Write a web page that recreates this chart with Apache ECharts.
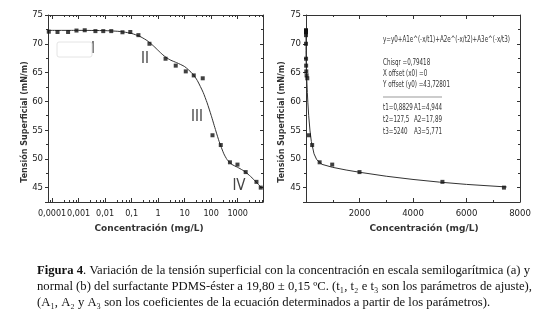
<!DOCTYPE html>
<html>
<head>
<meta charset="utf-8">
<script src="https://cdn.jsdelivr.net/npm/echarts@6/dist/echarts.min.js"></script>
<style>
  html, body { margin: 0; padding: 0; background: #fff; }
  #chart { width: 542px; height: 317px; }
</style>
</head>
<body>
<div id="chart"></div>
<script>
// etiquetas de las décadas del eje logarítmico
var decadeLabels = ['0,0001', '0,001', '0,01', '0,1', '1', '10', '100', '1000'];

// datos medidos: concentración (mg/L) y tensión superficial (mN/m)
var concentration = [0.000075, 0.00016, 0.0004, 0.00083, 0.0017, 0.0043, 0.0085, 0.017, 0.045, 0.089,
  0.18, 0.47, 1.9, 4.6, 11, 22, 48, 112, 230, 510, 980, 2000, 5100, 7400];
var tension = [72.1, 72.05, 72.05, 72.3, 72.35, 72.2, 72.2, 72.2, 72.0, 72.05,
  71.5, 70.0, 67.4, 66.2, 65.2, 64.5, 64.0, 54.1, 52.4, 49.4, 49.0, 47.7, 46.0, 45.0];

// curva de ajuste
var fitConc = [0.000075, 0.001, 0.01, 0.03, 0.05, 0.1, 0.2, 0.35, 0.5, 0.7, 1, 1.5, 2, 3, 5, 10, 20, 30,
  50, 70, 100, 150, 200, 300, 400, 600, 1000, 1500, 2000, 3000, 4000, 5000, 6000, 7500];
var fitTension = [72.33, 72.33, 72.28, 72.17, 72.05, 71.79, 71.3, 70.67, 70.13, 69.53, 68.84, 68.08, 67.62,
  67.14, 66.71, 66.03, 64.77, 63.61, 61.53, 59.75, 57.55, 54.85, 53.01, 50.88, 49.86, 49.04, 48.52,
  48.06, 47.67, 46.98, 46.42, 45.95, 45.56, 45.11];

// textos del recuadro de ajuste
var fitText = [
  'Chisqr =0,79418',
  'X offset (x0) =0',
  'Y offset (y0) =43,72801'
];
var paramRows = [
  ['t1=0,8829', 'A1=4,944'],
  ['t2=127,5', 'A2=17,89'],
  ['t3=5240', 'A3=5,771']
];
var romanLabels = ['I', 'II', 'III', 'IV'];

var points = concentration.map(function (c, i) { return [c, tension[i]]; });
var curve = fitConc.map(function (c, i) { return [c, fitTension[i]]; });

var narrow = "'Liberation Sans Narrow', 'DejaVu Sans Condensed', sans-serif";
var serif = "'Liberation Serif', 'DejaVu Serif', serif";
var axisColor = '#333';

var ctx = document.createElement('canvas').getContext('2d');
function textWidth(txt, font) {
  ctx.font = font;
  return ctx.measureText(txt).width;
}

function logLabel(v) {
  var l = Math.log10(v);
  if (Math.abs(l - Math.round(l)) > 1e-6) return '';
  var lab = decadeLabels[Math.round(l) + 4];
  return lab || '';
}

function yLabel(v) {
  return v % 5 === 0 ? String(v) : '';
}

function xAxisBase(grid, extra) {
  var a = {
    gridIndex: grid,
    axisLine: { show: true, onZero: false, lineStyle: { color: axisColor, width: 1 } },
    axisTick: { show: true, inside: true, length: 4, lineStyle: { color: axisColor } },
    minorTick: { show: true, splitNumber: 2, length: 2, lineStyle: { color: axisColor } },
    splitLine: { show: false },
    axisLabel: { show: false }
  };
  return Object.assign(a, extra);
}

function yAxisBase(grid, extra) {
  var a = {
    type: 'value',
    gridIndex: grid,
    min: 42.5,
    max: 75,
    axisLine: { show: true, onZero: false, lineStyle: { color: axisColor, width: 1 } },
    axisTick: { show: true, inside: false, length: 3, lineStyle: { color: axisColor } },
    minorTick: { show: true, splitNumber: 2, length: 2, lineStyle: { color: axisColor } },
    splitLine: { show: false },
    axisLabel: { show: false }
  };
  return Object.assign(a, extra);
}

var tickLabel = { fontFamily: narrow, fontSize: 9.5, color: '#222' };

var logX = {
  type: 'log', logBase: 10, min: 0.00007, max: 9000, splitNumber: 8,
  minorTick: { show: true, splitNumber: 5, length: 2, lineStyle: { color: axisColor } }
};

// graficos de texto
var graphics = [];

// titulos de ejes
var titleFont = { fontFamily: "'DejaVu Sans', sans-serif", fontWeight: 'bold', fontSize: 8, fill: '#333' };
[25, 282].forEach(function (x) {
  graphics.push({
    type: 'text', x: x, y: 122, rotation: Math.PI / 2,
    style: Object.assign({ text: 'Tensión Superficial (mN/m)', align: 'center', verticalAlign: 'middle' }, titleFont)
  });
});
[149, 424].forEach(function (x) {
  graphics.push({
    type: 'text', x: x, y: 229,
    style: Object.assign({ text: 'Concentración (mg/L)', align: 'center', verticalAlign: 'middle' },
      titleFont, { fontSize: 9 })
  });
});

// numeros romanos
var romanPos = [[93, 49], [145, 59], [197, 117], [239, 186]];
romanLabels.forEach(function (t, i) {
  graphics.push({
    type: 'text', x: romanPos[i][0], y: romanPos[i][1],
    style: { text: t, align: 'center', verticalAlign: 'middle', fontFamily: narrow, fontSize: 15, fill: '#444' }
  });
});
graphics.push({
  type: 'rect', shape: { x: 57, y: 42, width: 35, height: 15, r: 2 },
  style: { fill: 'none', stroke: '#e4e4e4', lineWidth: 1 }
});

// recuadro de la ecuacion
var eq = 'y=y0+A1e^(-x/t1)+A2e^(-x/t2)+A3e^(-x/t3)';
var smallFont = '9.5px ' + narrow;
var sx = 127 / textWidth(eq, smallFont);
function smallText(txt, x, y) {
  graphics.push({
    type: 'text', x: x, y: y, scaleX: sx,
    style: { text: txt, align: 'left', verticalAlign: 'middle', fontFamily: narrow, fontSize: 9.5, fill: '#333' }
  });
}
smallText(eq, 383, 40);
smallText(fitText[0], 383, 63);
smallText(fitText[1], 383, 74);
smallText(fitText[2], 383, 85);
graphics.push({
  type: 'line', shape: { x1: 383, y1: 97, x2: 442, y2: 97 },
  style: { stroke: '#999', lineWidth: 1.2 }
});
paramRows.forEach(function (r, i) {
  smallText(r[0], 383, 108 + i * 12);
  smallText(r[1], 414, 108 + i * 12);
});

// leyenda de la figura
var capFont = 13;
var line1Bold = 'Figura 4';
var line1Rest = '. Variación de la tensión superficial con la concentración en escala semilogarítmica (a) y';
var line2 = 'normal (b) del surfactante PDMS-éster a 19,80 ± 0,15 ºC. (t\u2081, t\u2082 e t\u2083 son los parámetros de ajuste),';
var line3 = '(A\u2081, A\u2082 y A\u2083 son los coeficientes de la ecuación determinados a partir de los parámetros).';
var w1 = textWidth(line1Bold, 'bold ' + capFont + 'px ' + serif) + textWidth(line1Rest, capFont + 'px ' + serif);
var capScale = 495 / textWidth(line2, capFont + 'px ' + serif);
graphics.push({
  type: 'text', x: 37, y: 271, scaleX: 493 / w1,
  style: {
    text: '{b|' + line1Bold + '}' + line1Rest,
    align: 'left', verticalAlign: 'middle', fontFamily: serif, fontSize: capFont, fill: '#111',
    rich: { b: { fontFamily: serif, fontSize: capFont, fontWeight: 'bold', fill: '#111' } }
  }
});
[[line2, 287], [line3, 303]].forEach(function (l) {
  graphics.push({
    type: 'text', x: 37, y: l[1], scaleX: capScale,
    style: { text: l[0], align: 'left', verticalAlign: 'middle', fontFamily: serif, fontSize: capFont, fill: '#111' }
  });
});

var chart = echarts.init(document.getElementById('chart'), null, { renderer: 'canvas' });
chart.setOption({
  animation: false,
  backgroundColor: '#fff',
  grid: [
    { left: 48, top: 15, width: 215, height: 187 },
    { left: 306, top: 15, width: 214, height: 187 }
  ],
  xAxis: [
    xAxisBase(0, Object.assign({}, logX, {
      position: 'bottom',
      axisLabel: Object.assign({ show: true, margin: 7, formatter: logLabel }, tickLabel, { fontSize: 9 })
    })),
    xAxisBase(0, Object.assign({}, logX, { position: 'top' })),
    xAxisBase(1, {
      type: 'value', min: 0, max: 8000, interval: 2000, position: 'bottom',
      axisLabel: Object.assign({ show: true, margin: 7, showMinLabel: false,
        formatter: function (v) { return String(v); } }, tickLabel)
    }),
    xAxisBase(1, { type: 'value', min: 0, max: 8000, interval: 2000, position: 'top' })
  ],
  yAxis: [
    yAxisBase(0, { position: 'left', axisLabel: Object.assign({ show: true, margin: 5, formatter: yLabel }, tickLabel) }),
    yAxisBase(0, { position: 'right', axisTick: { show: true, inside: true, length: 3, lineStyle: { color: axisColor } } }),
    yAxisBase(1, { position: 'left', axisLabel: Object.assign({ show: true, margin: 5, formatter: yLabel }, tickLabel) }),
    yAxisBase(1, { position: 'right', axisTick: { show: true, inside: true, length: 3, lineStyle: { color: axisColor } } })
  ],
  series: [
    {
      type: 'line', xAxisIndex: 0, yAxisIndex: 0, data: curve, showSymbol: false, smooth: 0.2,
      lineStyle: { color: '#333', width: 1 }, z: 2
    },
    {
      type: 'scatter', xAxisIndex: 0, yAxisIndex: 0, data: points, symbol: 'rect', symbolSize: 4,
      itemStyle: { color: '#111' }, z: 3
    },
    {
      type: 'line', xAxisIndex: 2, yAxisIndex: 2, data: curve, showSymbol: false,
      lineStyle: { color: '#333', width: 1 }, z: 2
    },
    {
      type: 'scatter', xAxisIndex: 2, yAxisIndex: 2, data: points, symbol: 'rect', symbolSize: 4,
      itemStyle: { color: '#111' }, z: 3
    }
  ],
  graphic: graphics
});
</script>
</body>
</html>
